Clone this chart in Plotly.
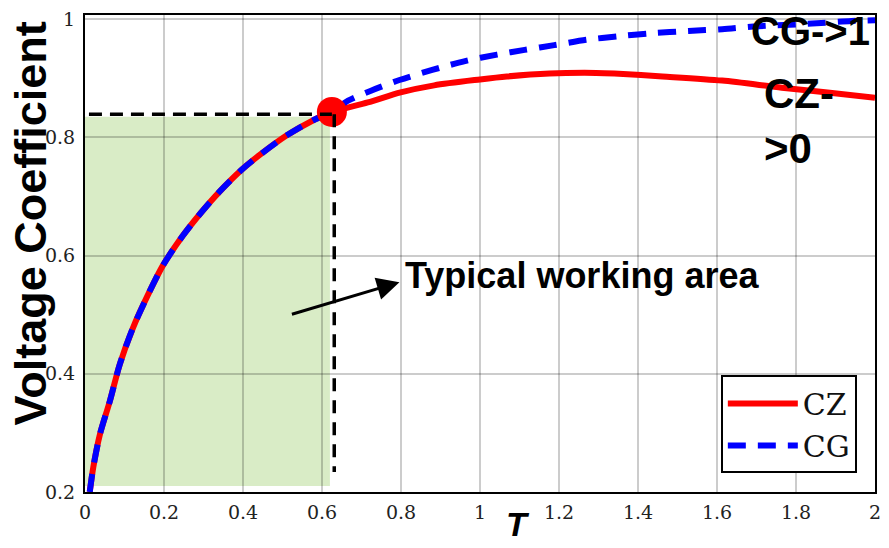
import plotly.graph_objects as go

# ---- data ----
T_rise = [0.012, 0.021, 0.038, 0.063, 0.088, 0.121, 0.159, 0.197, 0.247, 0.293,
          0.339, 0.398, 0.444, 0.510, 0.578, 0.625]
V_rise = [0.200, 0.242, 0.298, 0.354, 0.416, 0.477, 0.533, 0.583, 0.633, 0.672,
          0.707, 0.746, 0.771, 0.803, 0.829, 0.843]

T_cz_tail = [0.716, 0.799, 0.884, 1.000, 1.068, 1.176, 1.294, 1.340, 1.462,
             1.613, 1.764, 1.880, 2.000]
V_cz_tail = [0.859, 0.876, 0.888, 0.898, 0.903, 0.908, 0.909, 0.908, 0.903,
             0.896, 0.884, 0.876, 0.867]

T_cg_tail = [0.666, 0.724, 0.796, 0.879, 0.962, 1.043, 1.113, 1.188, 1.269,
             1.349, 1.432, 1.528, 1.613, 1.704, 1.830, 1.940, 2.000]
V_cg_tail = [0.862, 0.879, 0.897, 0.914, 0.929, 0.940, 0.948, 0.956, 0.965,
             0.971, 0.976, 0.980, 0.983, 0.988, 0.992, 0.997, 0.998]

T_cz = T_rise + T_cz_tail
V_cz = V_rise + V_cz_tail
T_cg = T_rise + T_cg_tail
V_cg = V_rise + V_cg_tail

point_T = [0.625]
point_V = [0.843]

area_T = [0.0, 0.62]
area_V = [0.21, 0.835]
guide_V = 0.839
guide_T = 0.631
guide_bottom = 0.234

arrow_tail = (0.52, 0.50)
arrow_head = (0.796, 0.555)

x_ticks = [0, 0.2, 0.4, 0.6, 0.8, 1, 1.2, 1.4, 1.6, 1.8, 2]
y_ticks = [0.2, 0.4, 0.6, 0.8, 1]

SANS = "Arial, Liberation Sans, sans-serif"
SERIF = "DejaVu Serif, serif"

fig = go.Figure()

fig.add_trace(go.Scatter(x=T_cz, y=V_cz, mode="lines", name="CZ",
                         line=dict(color="#ff0000", width=6, shape="spline", smoothing=0.8)))
fig.add_trace(go.Scatter(x=T_cg, y=V_cg, mode="lines", name="CG",
                         line=dict(color="#0000ff", width=6, dash="18px,12px",
                                   shape="spline", smoothing=0.8)))
fig.add_trace(go.Scatter(x=point_T, y=point_V, mode="markers", showlegend=False,
                         marker=dict(color="#ff0000", size=30)))

# shaded working area
fig.add_shape(type="rect", xref="x", yref="y", layer="below",
              x0=area_T[0], x1=area_T[1], y0=area_V[0], y1=area_V[1],
              fillcolor="#d9ecc6", line=dict(width=0))
# dashed guides
fig.add_shape(type="line", xref="x", yref="y", x0=0.01, x1=point_T[0], y0=guide_V, y1=guide_V,
              line=dict(color="black", width=3.5, dash="13px,8px"))
fig.add_shape(type="line", xref="x", yref="y", x0=guide_T, x1=guide_T, y0=guide_V, y1=guide_bottom,
              line=dict(color="black", width=3.5, dash="13px,9px"))

# arrow + label
fig.add_annotation(x=arrow_head[0], y=arrow_head[1], ax=arrow_tail[0], ay=arrow_tail[1],
                   xref="x", yref="y", axref="x", ayref="y", text="",
                   showarrow=True, arrowhead=2, arrowsize=1.5, arrowwidth=3, arrowcolor="black")
fig.add_annotation(x=0.804, y=0.566, xref="x", yref="y", xanchor="left", yanchor="middle",
                   text="<b>Typical working area</b>", showarrow=False,
                   font=dict(family=SANS, size=36, color="black"))
fig.add_annotation(x=1.682, y=0.980, xref="x", yref="y", xanchor="left", yanchor="middle",
                   text="<b>CG-&gt;1</b>", showarrow=False,
                   font=dict(family=SANS, size=40, color="black"))
fig.add_annotation(x=1.715, y=0.828, xref="x", yref="y", xanchor="left", yanchor="middle",
                   align="left", text="<b>CZ-</b><br><b>&gt;0</b>", showarrow=False,
                   font=dict(family=SANS, size=42, color="black"))

# axis titles
fig.add_annotation(x=-0.069, y=0.564, xref="paper", yref="paper", xanchor="center", yanchor="middle",
                   text="<b>Voltage Coefficient</b>", textangle=-90, showarrow=False,
                   font=dict(family=SANS, size=45, color="black"))
fig.add_annotation(x=0.548, y=0, xref="paper", yref="paper", xanchor="center", yanchor="top",
                   yshift=-11, text="<b><i>T</i></b>", showarrow=False,
                   font=dict(family=SANS, size=34, color="black"))

axis_common = dict(showgrid=True, gridcolor="rgba(0,0,0,0.2)", gridwidth=2,
                   zeroline=False, showline=True, linecolor="black", linewidth=2,
                   mirror=True, ticks="outside", tickcolor="rgba(0,0,0,0)",
                   tickfont=dict(family=SERIF, size=19, color="#222222"))

fig.update_xaxes(range=[0, 2], tickvals=x_ticks, ticklen=2, **axis_common)
fig.update_yaxes(range=[0.2, 1.007], tickvals=y_ticks, ticklen=4, **axis_common)

fig.update_layout(
    width=889, height=548,
    margin=dict(l=85, r=8, t=10, b=56),
    plot_bgcolor="white", paper_bgcolor="white",
    legend=dict(x=0.977, y=0.039, xanchor="right", yanchor="bottom",
                bgcolor="white", bordercolor="black", borderwidth=2,
                font=dict(family=SERIF, size=30, color="#111111"),
                itemwidth=70, tracegroupgap=0),
)

fig.write_html("out.html")
